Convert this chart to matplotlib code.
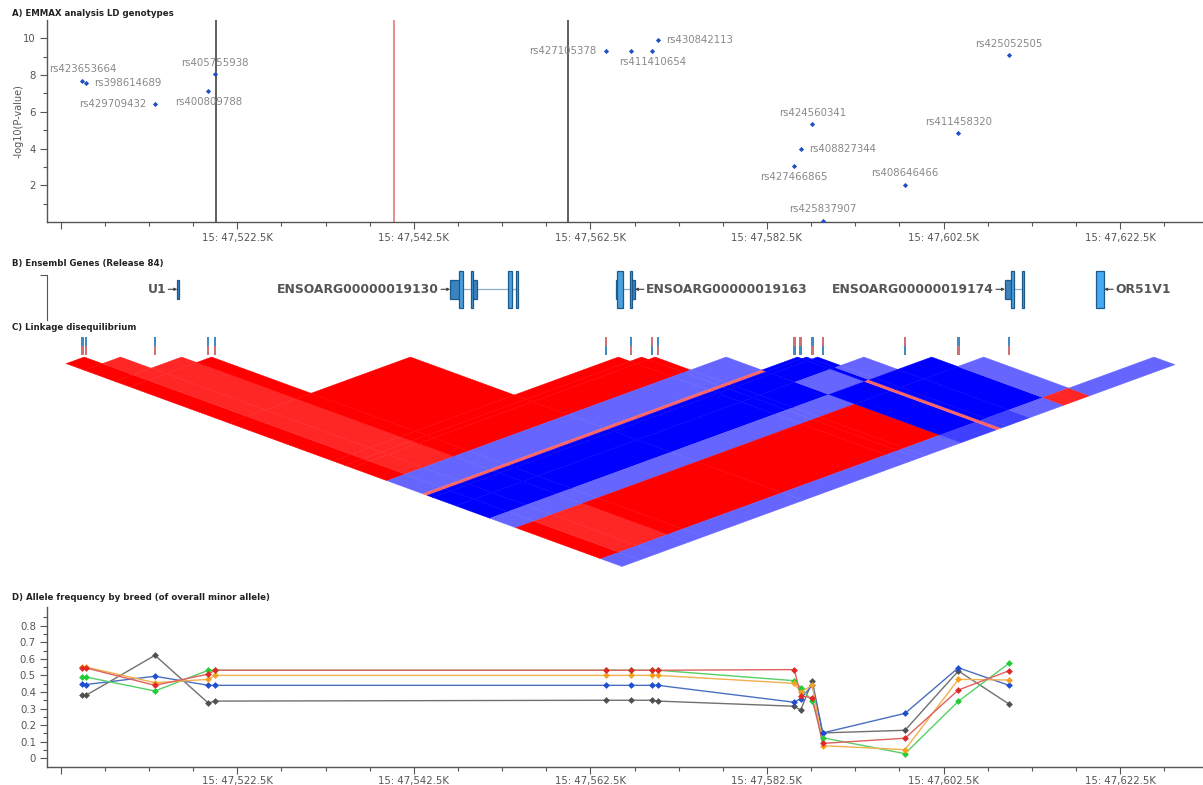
import matplotlib
matplotlib.use('Agg')
import matplotlib.pyplot as plt
from matplotlib.patches import Polygon, Rectangle
from matplotlib.ticker import FixedLocator, FuncFormatter

# ---- data -------------------------------------------------------------
# SNP positions along chromosome 15 (kb)
snp_kb = [47504.95, 47505.37, 47513.18, 47519.22, 47519.98,
          47564.24, 47567.10, 47569.51, 47570.16,
          47585.60, 47586.32, 47587.64, 47588.82,
          47598.14, 47604.18, 47609.92]
snp_ids = ['rs423653664', 'rs398614689', 'rs429709432', 'rs400809788', 'rs405755938',
           'rs427105378', '', 'rs411410654', 'rs430842113',
           'rs427466865', 'rs408827344', 'rs424560341', 'rs425837907',
           'rs408646466', 'rs411458320', 'rs425052505']
snp_label_side = ['above', 'right', 'left', 'below', 'above',
                  'left', 'none', 'below', 'right',
                  'below', 'right', 'above', 'above',
                  'above', 'above', 'above']
neglog_p = [7.70, 7.56, 6.41, 7.12, 8.04,
            9.31, 9.31, 9.31, 9.93,
            3.04, 3.98, 5.31, 0.07,
            2.03, 4.82, 9.08]

# marker lines in the association track
vline_kb = [47520.06, 47540.29, 47560.00]
vline_col = ['#333333', '#e07070', '#333333']

# genes: name, strand, exons (start kb, end kb, kind)
gene_names = ['U1', 'ENSOARG00000019130', 'ENSOARG00000019163',
              'ENSOARG00000019174', 'OR51V1']
gene_strand = [1, 1, -1, 1, -1]
gene_exons = [
    [(47515.71, 47515.93, 'short')],
    [(47546.61, 47547.74, 'short'), (47547.65, 47548.10, 'tall'),
     (47548.94, 47549.17, 'tall'), (47549.17, 47549.62, 'short'),
     (47553.13, 47553.59, 'tall'), (47554.04, 47554.27, 'tall')],
    [(47565.45, 47565.68, 'short'), (47565.51, 47566.17, 'tall'),
     (47566.98, 47567.17, 'tall'), (47567.17, 47567.55, 'short')],
    [(47609.46, 47610.10, 'short'), (47610.10, 47610.52, 'tall'),
     (47611.37, 47611.60, 'tall')],
    [(47619.74, 47620.70, 'single')],
]

# LD window ends (kb) beyond the first / last SNP cells
ld_start_kb = 47501.06
ld_tail_kb = [47626.34, 47631.10]
# allele bars above the LD triangle: colour of the upper half
allele_top = ['b', 'b', 'b', 'b', 'b', 'r', 'b', 'r', 'b',
              'r', 'r', 'b', 'r', 'r', 'b', 'b']
# signed LD, upper triangle, row i holds pairs (i, i+1..16)
ld_r = [
    [1.0, 1.0, 1.0, 1.0, 1.0, 1.0, 1.0, 1.0, -0.6, 0.6, -1.0, -1.0, -1.0, -0.6, 1.0, -0.6],
    [0.85, 0.85, 0.85, 0.85, 0.85, 0.85, 0.85, -0.6, 0.6, -1.0, -1.0, -1.0, -0.6, 0.85, -0.6],
    [0.85, 0.85, 0.85, 0.85, 0.85, 0.85, -0.6, 0.6, -1.0, -1.0, -1.0, -0.6, 0.85, -0.6],
    [1.0, 1.0, 1.0, 1.0, 1.0, -0.6, 0.6, -1.0, -1.0, -1.0, -0.6, 1.0, -0.6],
    [1.0, 1.0, 1.0, 1.0, -0.6, 0.6, -1.0, -1.0, -1.0, -0.6, 1.0, -0.6],
    [1.0, 1.0, 1.0, -0.6, 0.6, -1.0, -1.0, -1.0, -0.6, 1.0, -0.6],
    [1.0, 1.0, -0.6, 0.6, -1.0, -1.0, -1.0, -0.6, 1.0, -0.6],
    [1.0, -0.6, 0.6, -1.0, -1.0, -1.0, -0.6, 1.0, -0.6],
    [-0.6, 0.6, -1.0, -1.0, -1.0, -0.6, 1.0, -0.6],
    [-1.0, -1.0, -1.0, -0.6, -1.0, -1.0, -0.75],
    [-1.0, -1.0, -1.0, 0.6, 0.6, 0.6],
    [-1.0, -0.6, -1.0, -1.0, -0.75],
    [-0.6, -1.0, -1.0, -0.75],
    [-1.0, -1.0, -0.6],
    [-0.6, 0.85],
    [-0.6],
]

# minor allele frequency per breed
freq_grey = [0.382, 0.380, 0.621, 0.333, 0.345, 0.350, 0.350, 0.350, 0.345,
             0.314, 0.290, 0.466, 0.153, 0.169, 0.527, 0.327]
freq_blue = [0.446, 0.445, 0.495, 0.440, 0.440, 0.440, 0.440, 0.440, 0.440,
             0.338, 0.360, 0.440, 0.153, 0.271, 0.546, 0.440]
freq_green = [0.492, 0.490, 0.406, 0.531, 0.531, 0.531, 0.531, 0.531, 0.531,
              0.468, 0.426, 0.345, 0.124, 0.028, 0.344, 0.573]
freq_orange = [0.550, 0.550, 0.456, 0.476, 0.500, 0.500, 0.500, 0.500, 0.500,
               0.452, 0.400, 0.440, 0.076, 0.052, 0.476, 0.472]
freq_red = [0.546, 0.545, 0.440, 0.508, 0.531, 0.531, 0.531, 0.531, 0.531,
            0.535, 0.378, 0.364, 0.090, 0.121, 0.412, 0.528]

# ---- layout -----------------------------------------------------------
W, H = 1203, 785
XLIM = (47500.95, 47631.78)
TXT = '#555555'
plt.rcParams['font.family'] = 'DejaVu Sans'


def px_rect(left, top, right, bottom):
    return [left / W, 1 - bottom / H, (right - left) / W, (bottom - top) / H]


def kb_label(x, pos):
    if x < 47510:
        return ''
    return '15: {:,.1f}K'.format(x)


def genome_axis(ax):
    ax.set_xlim(*XLIM)
    ax.xaxis.set_major_locator(FixedLocator([47502.5 + 20 * k for k in range(7)]))
    ax.xaxis.set_minor_locator(FixedLocator([47502.5 + 5 * k for k in range(27)]))
    ax.xaxis.set_major_formatter(FuncFormatter(kb_label))
    for s in ('top', 'right'):
        ax.spines[s].set_visible(False)
    for s in ('left', 'bottom'):
        ax.spines[s].set_color('#555555')
        ax.spines[s].set_linewidth(1.0)
    ax.tick_params(axis='both', which='major', length=5, width=0.8, colors='#555555',
                   labelcolor=TXT, labelsize=7.3, pad=3)
    ax.tick_params(axis='both', which='minor', length=3, width=0.8, colors='#555555')


fig = plt.figure(figsize=(W / 100, H / 100), dpi=100)

title_kw = dict(fontsize=6.2, fontweight='bold', color='#222222', va='center', ha='left')
fig.text(12 / W, 1 - 13 / H, 'A) EMMAX analysis LD genotypes', **title_kw)
fig.text(12 / W, 1 - 264 / H, 'B) Ensembl Genes (Release 84)', **title_kw)
fig.text(12 / W, 1 - 328 / H, 'C) Linkage disequilibrium', **title_kw)
fig.text(12 / W, 1 - 597 / H, 'D) Allele frequency by breed (of overall minor allele)', **title_kw)

# ---- A: association -----------------------------------------------------
ax1 = fig.add_axes(px_rect(47, 20, 1202, 222))
genome_axis(ax1)
ax1.set_ylim(0, 11)
ax1.yaxis.set_major_locator(FixedLocator([2, 4, 6, 8, 10]))
ax1.yaxis.set_minor_locator(FixedLocator([1, 3, 5, 7, 9]))
ax1.set_ylabel('-log10(P-value)', fontsize=7, color=TXT, labelpad=0)
for xv, c in zip(vline_kb, vline_col):
    ax1.axvline(xv, color=c, lw=1.1)
ax1.scatter(snp_kb, neglog_p, marker='D', s=7, color='#1f4fc4', zorder=3, linewidths=0)
offsets = {'above': (0, 11.5, 'center', 'center'), 'below': (0, -10.5, 'center', 'center'),
           'left': (-9, 0, 'right', 'center'), 'right': (8, 0, 'left', 'center')}
for x, y, name, side in zip(snp_kb, neglog_p, snp_ids, snp_label_side):
    if side == 'none':
        continue
    dx, dy, ha, va = offsets[side]
    ax1.annotate(name, (x, y), xytext=(dx, dy), textcoords='offset pixels',
                 ha=ha, va=va, fontsize=7.3, color='#888888')

# ---- B: genes -----------------------------------------------------------
ax2 = fig.add_axes(px_rect(47, 275, 1202, 320))
ax2.set_xlim(*XLIM)
ax2.set_ylim(0, 45)
for s in ('top', 'right', 'bottom'):
    ax2.spines[s].set_visible(False)
ax2.spines['left'].set_color('#555555')
ax2.set_xticks([])
ax2.set_yticks([45])
ax2.set_yticklabels([''])
ax2.tick_params(axis='y', length=5, width=0.8, colors='#555555')
yc = 30.7
for name, strand, exons in zip(gene_names, gene_strand, gene_exons):
    g0 = min(e[0] for e in exons)
    g1 = max(e[1] for e in exons)
    ax2.plot([g0, g1], [yc, yc], color='#8fb0cc', lw=0.9, zorder=1)
    for a, b, kind in exons:
        if kind == 'short':
            h, fc = 9.4, '#3b82bf'
        elif kind == 'tall':
            h, fc = 18.5, '#4aa0dc'
        else:
            h, fc = 18.5, '#45aaf2'
        ax2.add_patch(Rectangle((a, yc - h), b - a, 2 * h, facecolor=fc,
                                edgecolor='#1d5a8c', lw=0.9, zorder=2, clip_on=False))
    if strand > 0:
        tip, tail, lab, ha = g0, -9, -11, 'right'
    else:
        tip, tail, lab, ha = g1, 9, 11, 'left'
    ax2.annotate('', xy=(tip, yc), xytext=(tail, 0), textcoords='offset pixels',
                 arrowprops=dict(arrowstyle='-|>', color='#444444', lw=0.8,
                                 mutation_scale=4, shrinkA=0, shrinkB=0))
    ax2.annotate(name, (tip, yc), xytext=(lab, -0.5), textcoords='offset pixels',
                 ha=ha, va='center', fontsize=8.9, fontweight='bold', color='#555555')

# ---- C: LD triangle -----------------------------------------------------
ax3 = fig.add_axes(px_rect(47, 335, 1202, 578))
ax3.set_xlim(*XLIM)
px_per_kb = 1155 / (XLIM[1] - XLIM[0])
depth_px = px_per_kb * 0.365
ax3.set_ylim((578 - 357) / depth_px, -(357 - 335) / depth_px)
ax3.axis('off')

edges = [ld_start_kb] + [(snp_kb[k] + snp_kb[k + 1]) / 2 for k in range(len(snp_kb) - 1)] + ld_tail_kb


def ld_colour(r):
    a = abs(r)
    if r >= 0:
        return (1.0, 1 - a, 1 - a)
    return (1 - a, 1 - a, 1.0)


def uv(u, v):
    return ((u + v) / 2, (v - u) / 2)


for i, row in enumerate(ld_r):
    for k, r in enumerate(row):
        j = i + 1 + k
        pts = [uv(edges[i], edges[j]), uv(edges[i], edges[j + 1]),
               uv(edges[i + 1], edges[j + 1]), uv(edges[i + 1], edges[j])]
        col = ld_colour(r)
        ax3.add_patch(Polygon(pts, closed=True, facecolor=col, edgecolor=col, lw=0.3))

bar_w = 2.4 / px_per_kb
bar_top, bar_mid, bar_bot = -(357 - 337) / depth_px, -(357 - 346) / depth_px, -(357 - 355) / depth_px
for x, top in zip(snp_kb, allele_top):
    up = '#3f8bc6' if top == 'b' else '#d07070'
    lo = '#d07070' if top == 'b' else '#3f8bc6'
    ax3.add_patch(Rectangle((x - bar_w / 2, bar_top), bar_w, bar_mid - bar_top, color=up, lw=0))
    ax3.add_patch(Rectangle((x - bar_w / 2, bar_mid), bar_w, bar_bot - bar_mid, color=lo, lw=0))

# ---- D: allele frequency ------------------------------------------------
ax4 = fig.add_axes(px_rect(47, 607, 1202, 767))
genome_axis(ax4)
ax4.tick_params(axis='x', which='major', pad=1.5)
ax4.set_ylim(-0.0525, 0.9125)
ax4.yaxis.set_major_locator(FixedLocator([0.1 * k for k in range(9)]))
ax4.yaxis.set_minor_locator(FixedLocator([0.05 + 0.1 * k for k in range(9)]))
ax4.yaxis.set_major_formatter(FuncFormatter(lambda v, p: '0' if abs(v) < 1e-9 else '{:.1f}'.format(v)))
series = [(freq_grey, '#505050', '#707070'), (freq_blue, '#1f4fd0', '#4a6fc0'),
          (freq_green, '#22cc33', '#55d066'), (freq_orange, '#f5a020', '#f0b050'),
          (freq_red, '#e02828', '#e06060')]
for vals, mc, lc in series:
    ax4.plot(snp_kb, vals, color=lc, lw=1.0, zorder=2)
    ax4.scatter(snp_kb, vals, marker='D', s=12, color=mc, linewidths=0, zorder=3)

fig.savefig('out.png', dpi=100)
